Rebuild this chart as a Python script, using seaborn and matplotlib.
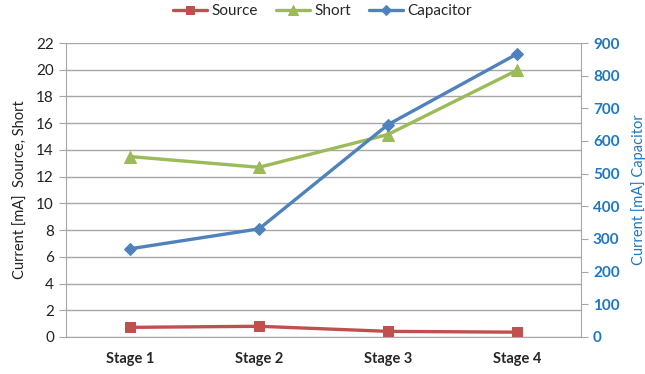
import matplotlib
matplotlib.use('Agg')
from matplotlib import pyplot as plt
import numpy as np
import pandas as pd
import seaborn as sns

stages = ["Stage 1", "Stage 2", "Stage 3", "Stage 4"]
source = [0.72, 0.80, 0.42, 0.36]
short = [13.5, 12.7, 15.15, 19.95]
capacitor = [270, 331, 650, 866]

left_ticks = list(range(0, 23, 2))
right_ticks = list(range(0, 901, 100))

red = "#C0504D"
green = "#9BBB59"
blue = "#4F81BD"
axis_blue = "#1F77C4"
grid_gray = "#A6A6A6"

sns.set_style("white")
plt.rcParams['font.family'] = ['Lato', 'DejaVu Sans']

df = pd.DataFrame({"stage": stages, "Source": source, "Short": short, "Capacitor": capacitor})

fig = plt.figure(figsize=(6.45, 3.74), dpi=100)
ax = fig.add_axes([0.102, 0.099, 0.799, 0.786])
ax2 = ax.twinx()

sns.lineplot(data=df, x="stage", y="Source", ax=ax, color=red, marker="s", markersize=7,
             markeredgecolor=red, linewidth=2.4, sort=False, label="Source", legend=False)
sns.lineplot(data=df, x="stage", y="Short", ax=ax, color=green, marker="^", markersize=8,
             markeredgecolor=green, linewidth=2.4, sort=False, label="Short", legend=False)
sns.lineplot(data=df, x="stage", y="Capacitor", ax=ax2, color=blue, marker="D", markersize=6,
             markeredgecolor=blue, linewidth=2.4, sort=False, label="Capacitor", legend=False)

ax.set_xlim(-0.5, 3.5)
ax.set_ylim(0, 22)
ax.set_yticks(left_ticks)
ax2.set_ylim(0, 900)
ax2.set_yticks(right_ticks)

ax.yaxis.grid(True, color=grid_gray, linewidth=1)
ax.set_axisbelow(True)

ax.set_xlabel("")
ax.set_ylabel("Current [mA]  Source, Short", fontsize=10.5, color="#222222", labelpad=6)
ax2.set_ylabel("Current [mA] Capacitor", fontsize=10.5, color=axis_blue, labelpad=8)

ax.tick_params(axis="x", which="major", length=0, labelsize=10.5, pad=11)
for lbl in ax.get_xticklabels():
    lbl.set_fontweight("bold")
ax.set_xticks(np.arange(-0.5, 3.6, 1.0), minor=True)
ax.tick_params(axis="x", which="minor", length=5, color=grid_gray, direction="out")
ax.tick_params(axis="y", length=5, color=grid_gray, direction="out", labelsize=11, labelcolor="#222222", left=True)
ax2.tick_params(axis="y", length=5, color=grid_gray, direction="out", labelsize=11, labelcolor=axis_blue, right=True)
for lbl in ax2.get_yticklabels():
    lbl.set_fontweight("bold")

for a in (ax, ax2):
    for s in a.spines.values():
        s.set_visible(False)
ax.spines["left"].set_visible(True)
ax.spines["left"].set_color(grid_gray)
ax.spines["bottom"].set_visible(True)
ax.spines["bottom"].set_color(grid_gray)
ax2.spines["right"].set_visible(True)
ax2.spines["right"].set_color(grid_gray)

h1, l1 = ax.get_legend_handles_labels()
h2, l2 = ax2.get_legend_handles_labels()
fig.legend(h1 + h2, l1 + l2, loc="upper center", bbox_to_anchor=(0.5, 1.025), ncol=3,
           frameon=False, fontsize=11, handlelength=2.2, columnspacing=1.2, handletextpad=0.3,
           markerscale=0.85)

fig.savefig("out.png", dpi=100)
